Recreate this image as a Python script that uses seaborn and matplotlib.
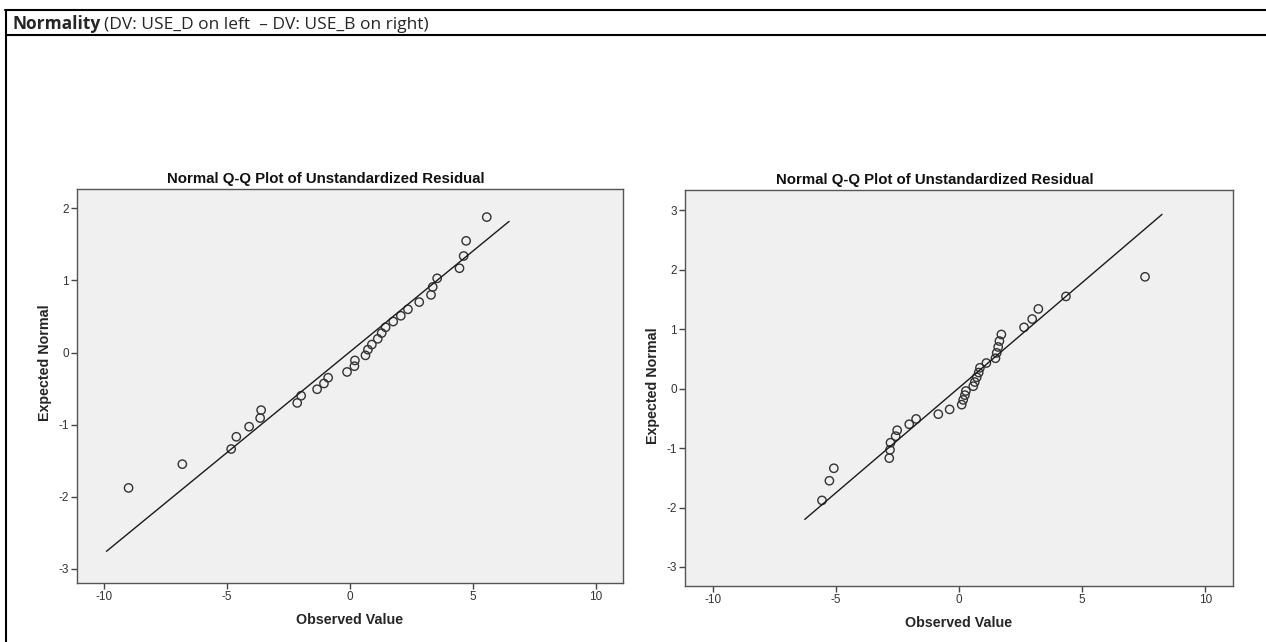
import matplotlib
matplotlib.use("Agg")
import matplotlib.pyplot as plt
import seaborn as sns
import pandas as pd
from matplotlib.lines import Line2D

# --- data ---
# left panel (DV: USE_D)
left_observed = [-9.02, -6.83, -4.84, -4.63, -4.11, -3.66, -3.62, -2.15,
                 -1.99, -1.34, -1.06, -0.89, -0.12, 0.18, 0.20, 0.63,
                 0.73, 0.89, 1.13, 1.29, 1.45, 1.76, 2.07, 2.36,
                 2.82, 3.30, 3.37, 3.55, 4.46, 4.63, 4.73, 5.57]
# right panel (DV: USE_B)
right_observed = [-5.56, -5.26, -5.08, -2.83, -2.80, -2.78, -2.57, -2.51,
                  -2.02, -1.74, -0.84, -0.38, 0.11, 0.17, 0.24, 0.28,
                  0.58, 0.64, 0.72, 0.80, 0.85, 1.11, 1.48, 1.53,
                  1.59, 1.64, 1.72, 2.64, 2.97, 3.22, 4.34, 7.55]
expected_normal = [-1.88, -1.55, -1.34, -1.17, -1.03, -0.91, -0.80, -0.70,
                   -0.60, -0.51, -0.43, -0.35, -0.27, -0.19, -0.11, -0.04,
                   0.04, 0.11, 0.19, 0.27, 0.35, 0.43, 0.51, 0.60,
                   0.70, 0.80, 0.91, 1.03, 1.17, 1.34, 1.55, 1.88]
left_line_x = [-9.92, 6.48]
left_line_y = [-2.76, 1.82]
right_line_x = [-6.26, 8.24]
right_line_y = [-2.20, 2.93]

x_ticks = [-10, -5, 0, 5, 10]
left_y_ticks = [-3, -2, -1, 0, 1, 2]
right_y_ticks = [-3, -2, -1, 0, 1, 2, 3]

title = "Normal Q-Q Plot of Unstandardized Residual"

sns.set_theme(style="white")
plt.rcParams['font.family'] = ['Liberation Sans', 'DejaVu Sans']
plt.rcParams['axes.unicode_minus'] = False

fig = plt.figure(figsize=(12.66, 6.42), dpi=100)
W, H = 1266, 642

ax_l = fig.add_axes([77 / W, 1 - 583 / H, 546 / W, 394 / H])
ax_r = fig.add_axes([685 / W, 1 - 586 / H, 548 / W, 396 / H])

panels = [
    (ax_l, left_observed, left_line_x, left_line_y, left_y_ticks, (-3.2, 2.27), 0.56),
    (ax_r, right_observed, right_line_x, right_line_y, right_y_ticks, (-3.32, 3.34), 0.505),
]

for ax, obs, lx, ly, yt, ylim, ylab_y in panels:
    df = pd.DataFrame({"obs": obs, "exp": expected_normal})
    ax.set_facecolor("#f0f0f0")
    sns.lineplot(x=lx, y=ly, ax=ax, color="#1a1a1a", linewidth=1.0)
    sns.scatterplot(data=df, x="obs", y="exp", ax=ax, s=36, marker="o",
                    facecolor="none", edgecolor="#333333", linewidth=1.0)
    ax.set_xlim(-11.12, 11.12)
    ax.set_ylim(*ylim)
    ax.set_xticks(x_ticks)
    ax.set_yticks(yt)
    ax.tick_params(axis="both", which="both", direction="out", length=4,
                   width=1, color="#444444", labelsize=8.5, labelcolor="#333333",
                   bottom=True, left=True, pad=2)
    for s in ax.spines.values():
        s.set_color("#555555")
        s.set_linewidth(1.0)
    ax.set_title(title, fontsize=10.8, fontweight="bold", color="#111111",
                 x=0.455, pad=4)
    ax.set_xlabel("Observed Value", fontsize=10.3, fontweight="bold")
    ax.set_ylabel("Expected Normal", fontsize=10.3, fontweight="bold")
    ax.xaxis.set_label_coords(0.5, -0.094)
    ax.yaxis.set_label_coords(-0.059, ylab_y)
    ax.xaxis.label.set_va("center")
    ax.yaxis.label.set_va("center")

# table frame around the chart
lw = 1.5
fig.add_artist(Line2D([5 / W, 1], [1 - 10 / H, 1 - 10 / H], transform=fig.transFigure,
                      color="black", linewidth=lw))
fig.add_artist(Line2D([6 / W, 1], [1 - 35 / H, 1 - 35 / H], transform=fig.transFigure,
                      color="black", linewidth=lw))
fig.add_artist(Line2D([6 / W, 6 / W], [0, 1 - 10 / H], transform=fig.transFigure,
                      color="black", linewidth=lw))

# header text: bold word followed by normal text
head_font = ['Open Sans', 'DejaVu Sans']
t1 = fig.text(12 / W, 1 - 29 / H, "Normality", fontsize=12.5, fontweight="bold",
              family=head_font, va="baseline", ha="left")
fig.canvas.draw()
bb = t1.get_window_extent()
fig.text(bb.x1 / W + 4 / W, 1 - 29 / H, "(DV: USE_D on left  \u2013 DV: USE_B on right)",
         fontsize=12.5, family=head_font, va="baseline", ha="left")

plt.savefig("out.png", dpi=100)
